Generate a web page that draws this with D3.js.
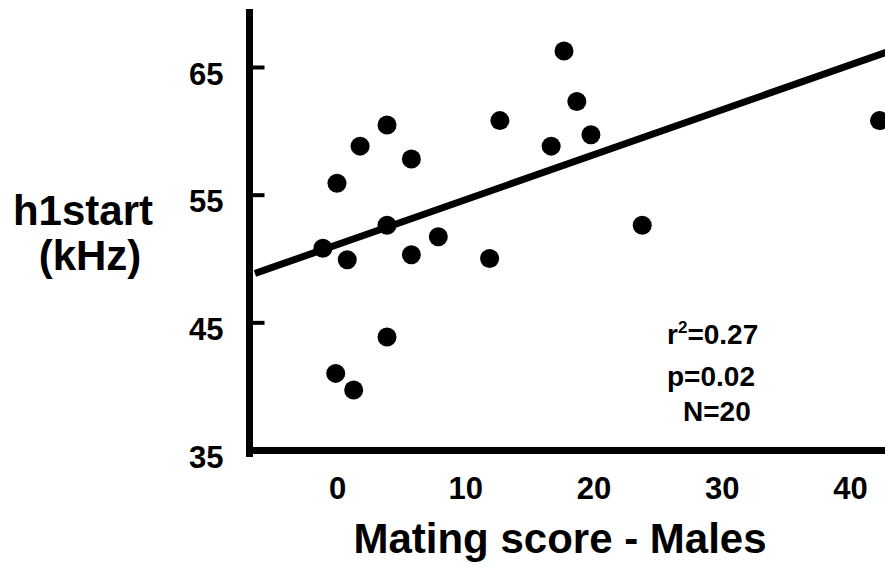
<!DOCTYPE html>
<html><head><meta charset="utf-8">
<script src="https://cdn.jsdelivr.net/npm/d3@7"></script>
<style>body{margin:0;background:#fff}svg{display:block}text{font-family:"Liberation Sans",Arial,sans-serif;font-weight:bold;fill:#000}</style>
</head><body><svg width="885" height="569"></svg>
<script>
const xTicks=[0,10,20,30,40];
const yTicks=[35,45,55,65];
const matingScore=[0,1.8,3.9,5.8,-1.1,0.8,3.9,5.8,7.9,3.9,-0.1,1.3,17.7,12.7,18.7,19.8,16.7,23.8,11.9,42.3];
const h1start=[55.9,58.8,60.45,57.8,50.8,49.9,52.6,50.3,51.7,43.85,41.0,39.7,66.25,60.8,62.3,59.7,58.8,52.6,50.0,60.8];
const fitSlope=0.352, fitIntercept=51.08;
const fitRange=[-6.4,45];
const statsLines=["p=0.02","N=20"];

const svg=d3.select("svg");
const x=d3.scaleLinear().domain([0,40]).range([337,850]);
const y=d3.scaleLinear().domain([35,65]).range([450,67]);

// y axis
const ya=svg.append("g").attr("transform","translate(249.5,0)")
  .call(d3.axisLeft(y).tickValues(yTicks).tickSizeInner(-15).tickSizeOuter(0).tickPadding(26));
ya.select(".domain").remove();
ya.selectAll(".tick line").attr("stroke","#000").attr("stroke-width",4);
ya.selectAll(".tick text").attr("font-size",31).attr("dy","0.55em").style("font-family","'Liberation Sans',Arial,sans-serif").style("font-weight","bold").attr("fill","#000");

// x axis
const xa=svg.append("g").attr("transform","translate(0,450)")
  .call(d3.axisBottom(x).tickValues(xTicks).tickSize(0).tickPadding(27));
xa.select(".domain").remove();
xa.selectAll(".tick text").attr("font-size",31).style("font-family","'Liberation Sans',Arial,sans-serif").style("font-weight","bold").attr("fill","#000");

// axis lines
svg.append("line").attr("x1",249.5).attr("x2",249.5).attr("y1",9).attr("y2",457).attr("stroke","#000").attr("stroke-width",7);
svg.append("line").attr("x1",246).attr("x2",885).attr("y1",450.5).attr("y2",450.5).attr("stroke","#000").attr("stroke-width",7);

// regression line
svg.append("line")
  .attr("x1",x(fitRange[0])).attr("y1",y(fitIntercept+fitSlope*fitRange[0]))
  .attr("x2",x(fitRange[1])).attr("y2",y(fitIntercept+fitSlope*fitRange[1]))
  .attr("stroke","#000").attr("stroke-width",7);

// points
svg.append("g").selectAll("circle").data(matingScore).join("circle")
  .attr("cx",d=>x(d)).attr("cy",(d,i)=>y(h1start[i])).attr("r",9.5).attr("fill","#000");

// y label
svg.append("text").attr("x",83).attr("y",225).attr("text-anchor","middle").attr("font-size",42).text("h1start");
svg.append("text").attr("x",90).attr("y",270).attr("text-anchor","middle").attr("font-size",42).text("(kHz)");

// x label
svg.append("text").attr("x",560).attr("y",553).attr("text-anchor","middle").attr("font-size",42).text("Mating score - Males");

// stats
const t1=svg.append("text").attr("x",667).attr("y",344).attr("font-size",28);
t1.append("tspan").text("r");
t1.append("tspan").attr("font-size",17).attr("dy",-11).text("2");
t1.append("tspan").attr("dy",11).text("=0.27");
svg.append("text").attr("x",667).attr("y",386).attr("font-size",28).text(statsLines[0]);
svg.append("text").attr("x",683).attr("y",421).attr("font-size",28).text(statsLines[1]);
</script></body></html>
